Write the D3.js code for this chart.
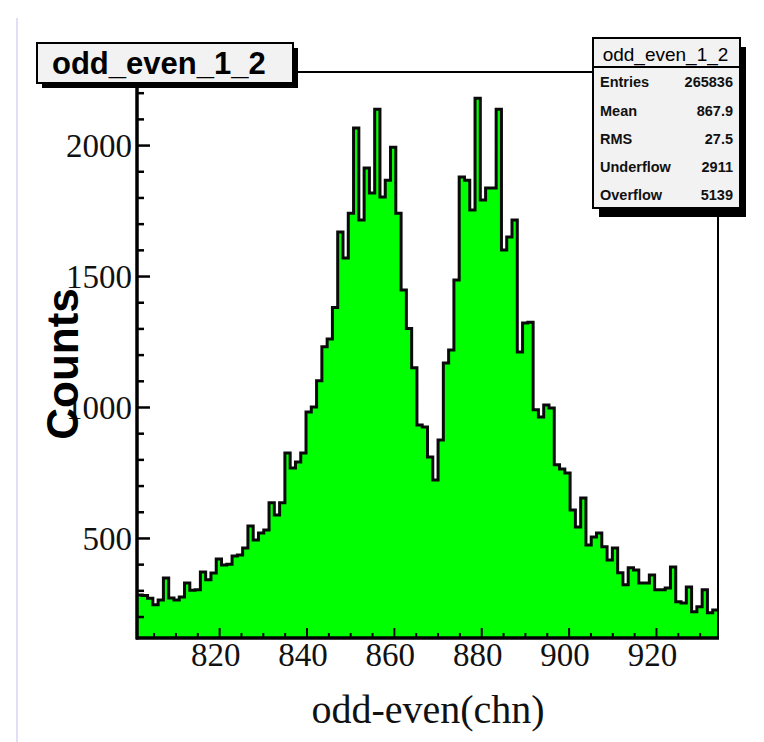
<!DOCTYPE html>
<html>
<head>
<meta charset="utf-8">
<script src="https://cdn.jsdelivr.net/npm/d3@7"></script>
<style>
  html, body { margin: 0; padding: 0; background: #fff; }
  svg { display: block; }
</style>
</head>
<body>
<script>
// ---- data ----
const histTitle = "odd_even_1_2";
const xTitle = "odd-even(chn)";
const yTitle = "Counts";
const xRange = [801.2, 934.2];
const yRange = [118, 2279];
const binStart = 801.2;
const binWidth = 133 / 110;
const counts = [
  282, 280, 270, 245, 263, 347, 271, 263, 275, 328,
  300, 302, 370, 340, 366, 420, 397, 400, 431, 435,
  462, 546, 492, 519, 530, 634, 588, 634, 824, 767,
  790, 824, 981, 1000, 1100, 1230, 1260, 1380, 1668, 1569,
  1740, 2065, 1714, 1912, 1817, 2137, 1802, 1866, 1992, 1740,
  1447, 1300, 1150, 931, 924, 809, 721, 874, 1168, 1218,
  1485, 1878, 1866, 1752, 2179, 1790, 1836, 1836, 2137, 1599,
  1649, 1714, 1210, 1321, 1324, 989, 962, 1008, 996, 779,
  763, 748, 607, 542, 653, 473, 504, 519, 466, 416,
  462, 367, 321, 386, 378, 328, 328, 359, 302, 302,
  309, 389, 256, 252, 313, 218, 237, 302, 214, 225
];
const xMajorTicks = [820, 840, 860, 880, 900, 920];
const xMinorTicks = [805, 810, 815, 825, 830, 835, 845, 850, 855, 865, 870, 875, 885, 890, 895, 905, 910, 915, 925, 930];
const yMajorTicks = [500, 1000, 1500, 2000];
const yMinorTicks = [200, 300, 400, 600, 700, 800, 900, 1100, 1200, 1300, 1400, 1600, 1700, 1800, 1900, 2100, 2200];
const statLabels = ["Entries", "Mean", "RMS", "Underflow", "Overflow"];
const statValues = ["265836", "867.9", "27.5", "2911", "5139"];

// ---- layout ----
const W = 764, H = 742;
const plot = { left: 137, right: 718, top: 72, bottom: 638 };

const svg = d3.select("body").append("svg")
  .attr("width", W).attr("height", H);

svg.append("rect").attr("width", W).attr("height", H).attr("fill", "#fff");
// faint left border artifact
svg.append("line").attr("x1", 17).attr("x2", 17).attr("y1", 18).attr("y2", H)
  .attr("stroke", "#d4d4f2").attr("stroke-width", 1.5);

const x = d3.scaleLinear().domain(xRange).range([plot.left, plot.right]);
const y = d3.scaleLinear().domain(yRange).range([plot.bottom, plot.top]);

// histogram points (step after), plus closing edge
const pts = counts.map((c, i) => ({ x: binStart + i * binWidth, c }));
pts.push({ x: binStart + counts.length * binWidth, c: counts[counts.length - 1] });

const area = d3.area()
  .x(d => x(d.x)).y0(y(yRange[0])).y1(d => y(d.c))
  .curve(d3.curveStepAfter);
const line = d3.line()
  .x(d => x(d.x)).y(d => y(d.c))
  .curve(d3.curveStepAfter);

const g = svg.append("g");
g.append("path").datum(pts).attr("d", area).attr("fill", "#00ff00");
g.append("path").datum(pts).attr("d", line)
  .attr("fill", "none").attr("stroke", "#0a0a0a").attr("stroke-width", 3)
  .attr("stroke-linejoin", "miter");

// frame lines (top & right)
svg.append("line").attr("x1", 290).attr("x2", 595).attr("y1", plot.top).attr("y2", plot.top)
  .attr("stroke", "#000").attr("stroke-width", 2);
svg.append("line").attr("x1", plot.right).attr("x2", plot.right).attr("y1", 200).attr("y2", plot.bottom)
  .attr("stroke", "#000").attr("stroke-width", 2);

// ---- axes ----
const serif = "'Liberation Serif', 'Times New Roman', serif";

const xAxisMajor = d3.axisBottom(x).tickValues(xMajorTicks).tickSizeInner(-10).tickSizeOuter(0)
  .tickPadding(10).tickFormat(d3.format("d"));
const xAxisMinor = d3.axisBottom(x).tickValues(xMinorTicks).tickSizeInner(-5).tickSizeOuter(0)
  .tickFormat("");
const gxMinor = svg.append("g").attr("transform", `translate(0,${plot.bottom})`).call(xAxisMinor);
const gx = svg.append("g").attr("transform", `translate(0,${plot.bottom})`).call(xAxisMajor);
[gx, gxMinor].forEach(a => {
  a.select(".domain").remove();
  a.selectAll(".tick line").attr("stroke", "#000").attr("stroke-width", 2);
});
gx.selectAll(".tick text").attr("font-family", serif).attr("font-size", 33)
  .attr("fill", "#111").attr("dy", "0.55em").attr("dx", -4);
svg.append("line").attr("x1", plot.left - 1).attr("x2", plot.right + 1)
  .attr("y1", plot.bottom).attr("y2", plot.bottom)
  .attr("stroke", "#000").attr("stroke-width", 3.5);

const yAxisMajor = d3.axisLeft(y).tickValues(yMajorTicks).tickSizeInner(-13).tickSizeOuter(0)
  .tickPadding(5).tickFormat(d3.format("d"));
const yAxisMinor = d3.axisLeft(y).tickValues(yMinorTicks).tickSizeInner(-7).tickSizeOuter(0)
  .tickFormat("");
const gyMinor = svg.append("g").attr("transform", `translate(${plot.left},0)`).call(yAxisMinor);
const gy = svg.append("g").attr("transform", `translate(${plot.left},0)`).call(yAxisMajor);
[gy, gyMinor].forEach(a => {
  a.select(".domain").remove();
  a.selectAll(".tick line").attr("stroke", "#000").attr("stroke-width", 2.5);
});
gy.selectAll(".tick text").attr("font-family", serif).attr("font-size", 33)
  .attr("fill", "#111").attr("dy", "0.34em");
svg.append("line").attr("x1", plot.left).attr("x2", plot.left)
  .attr("y1", 84).attr("y2", plot.bottom + 1.5)
  .attr("stroke", "#000").attr("stroke-width", 3.5);

// axis titles
svg.append("text").attr("x", 428).attr("y", 723).attr("text-anchor", "middle")
  .attr("font-family", serif).attr("font-size", 40).attr("fill", "#111").text(xTitle);
svg.append("text").attr("transform", "translate(78,364) rotate(-90)")
  .attr("text-anchor", "middle")
  .attr("font-family", "'Liberation Sans', Arial, sans-serif").attr("font-weight", "bold")
  .attr("font-size", 44).attr("fill", "#000").text(yTitle);

// ---- title box ----
const sans = "'Liberation Sans', Arial, Helvetica, sans-serif";
const tb = { x: 37, y: 43, w: 256, h: 40 };
svg.append("rect").attr("x", tb.x + 5).attr("y", tb.y + 5).attr("width", tb.w).attr("height", tb.h)
  .attr("fill", "#000");
svg.append("rect").attr("x", tb.x).attr("y", tb.y).attr("width", tb.w).attr("height", tb.h)
  .attr("fill", "#f2f2f2").attr("stroke", "#000").attr("stroke-width", 2);
svg.append("text").attr("x", 52).attr("y", tb.y + 31)
  .attr("font-family", sans).attr("font-weight", "bold").attr("font-size", 31)
  .attr("fill", "#000").text(histTitle);

// ---- stats box ----
const sb = { x: 593, y: 38, w: 147, h: 170, head: 29 };
svg.append("rect").attr("x", sb.x + 6).attr("y", sb.y + 9).attr("width", sb.w).attr("height", sb.h)
  .attr("fill", "#000");
svg.append("rect").attr("x", sb.x).attr("y", sb.y).attr("width", sb.w).attr("height", sb.h)
  .attr("fill", "#f2f2f2").attr("stroke", "#000").attr("stroke-width", 2);
svg.append("line").attr("x1", sb.x).attr("x2", sb.x + sb.w)
  .attr("y1", sb.y + sb.head).attr("y2", sb.y + sb.head)
  .attr("stroke", "#000").attr("stroke-width", 2);
svg.append("text").attr("x", sb.x + sb.w / 2 - 1).attr("y", sb.y + 23).attr("text-anchor", "middle")
  .attr("font-family", sans).attr("font-size", 19).attr("fill", "#000").text(histTitle);
const rowY = [87, 116, 144, 172, 200];
statLabels.forEach((lab, i) => {
  svg.append("text").attr("x", sb.x + 7).attr("y", rowY[i])
    .attr("font-family", sans).attr("font-weight", "bold").attr("font-size", 14.5)
    .attr("fill", "#111").text(lab);
  svg.append("text").attr("x", sb.x + sb.w - 7).attr("y", rowY[i]).attr("text-anchor", "end")
    .attr("font-family", sans).attr("font-weight", "bold").attr("font-size", 14.5)
    .attr("fill", "#111").text(statValues[i]);
});
</script>
</body>
</html>
